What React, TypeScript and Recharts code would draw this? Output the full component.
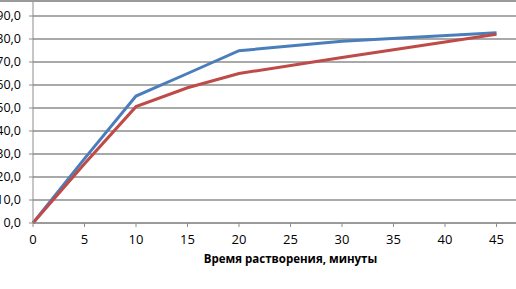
import { LineChart, Line, XAxis, YAxis, CartesianGrid } from "recharts"

const minutes = [0, 5, 10, 15, 20, 30, 45]
const seriesBlue = [0, 28, 55.2, 65, 74.9, 79, 82.7]
const seriesRed = [0, 25.8, 50.6, 58.8, 65, 72, 82.1]
const xTicks = [0, 5, 10, 15, 20, 25, 30, 35, 40, 45]
const yTicks = [0, 10, 20, 30, 40, 50, 60, 70, 80, 90, 100]
const xTitle = "Время растворения, минуты"

const data = minutes.map((m, i) => ({ m, a: seriesBlue[i], b: seriesRed[i] }))

const font = "'Open Sans', sans-serif"

export default function App() {
  return (
    <div
      style={{
        position: "fixed",
        left: 0,
        top: 0,
        width: 516,
        height: 289,
        overflow: "hidden",
        background: "#fff",
      }}
    >
      <div style={{ position: "absolute", left: 0, top: 0, width: 516, height: 2, background: "#9a9a9a", zIndex: 1 }} />
      <div style={{ position: "absolute", left: 0, top: -12 }}>
        <LineChart width={548} height={301} data={data} margin={{ top: 5, right: 0, bottom: 0, left: 0 }}>
          <CartesianGrid vertical={false} stroke="#8c8c8c" strokeWidth={1.3} />
          <XAxis
            dataKey="m"
            type="number"
            domain={[0, 50]}
            ticks={xTicks}
            height={66}
            stroke="#8c8c8c"
            tickSize={4}
            tickMargin={8}
            tick={{ fill: "#000", fontSize: 13, fontFamily: font }}
            label={{
              value: xTitle,
              position: "insideBottom",
              offset: 26,
              style: { fill: "#000", fontSize: 11.5, fontWeight: "bold", fontFamily: font },
            }}
          />
          <YAxis
            type="number"
            domain={[0, 100]}
            ticks={yTicks}
            interval={0}
            width={33}
            stroke="#8c8c8c"
            tickSize={4}
            tickMargin={8}
            tick={{ fill: "#000", fontSize: 12.5, fontFamily: font }}
            tickFormatter={(v: number) => v.toFixed(1).replace(".", ",")}
          />
          <Line type="linear" dataKey="a" stroke="#4a7ebb" strokeWidth={3} dot={false} isAnimationActive={false} />
          <Line type="linear" dataKey="b" stroke="#be4b48" strokeWidth={3} dot={false} isAnimationActive={false} />
        </LineChart>
      </div>
    </div>
  )
}
